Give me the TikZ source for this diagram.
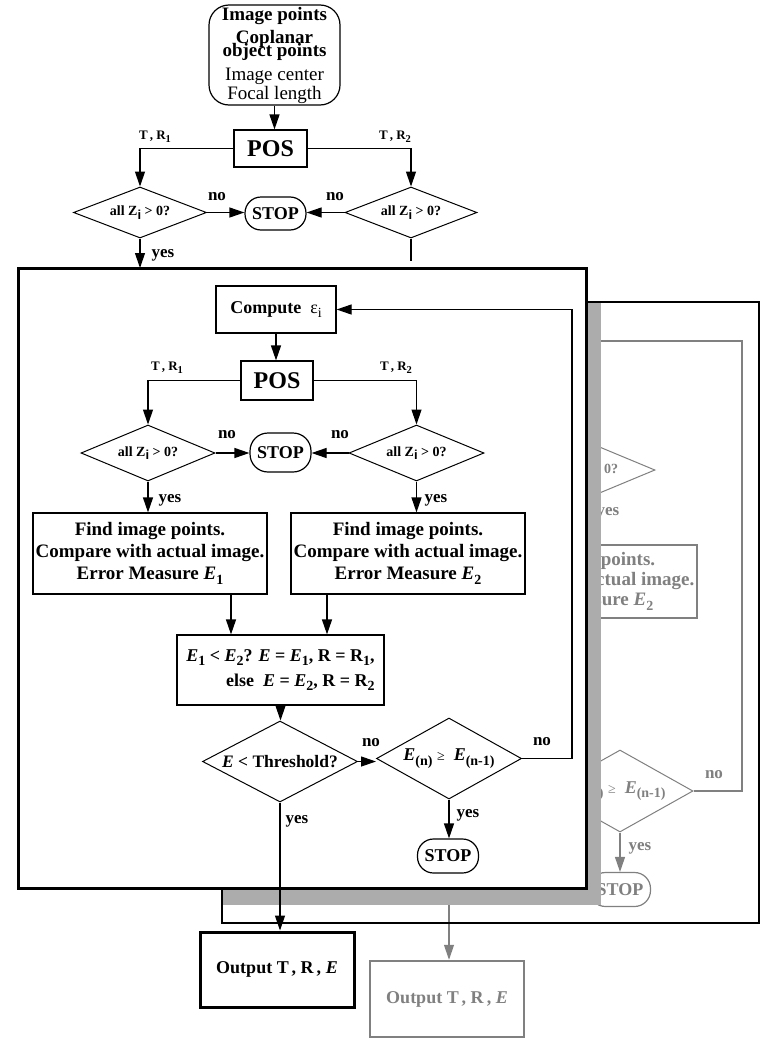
\documentclass[tikz,border=0pt]{standalone}
\usepackage{fontspec}
\setmainfont{Liberation Serif}
\setsansfont{Liberation Sans}
\usetikzlibrary{arrows.meta,shapes.geometric}
\definecolor{gr}{RGB}{128,128,128}
\definecolor{shadowgray}{RGB}{172,172,172}
\newcommand\sbA[1]{\raisebox{-4.5pt}{\fontsize{14}{14}\selectfont #1}}
\newcommand\sbB[1]{\raisebox{-3pt}{\fontsize{10.5}{10.5}\selectfont #1}}
\newcommand\sbZ[1]{\raisebox{-3.5pt}{\fontsize{13}{13}\selectfont\sffamily\bfseries #1}}
\begin{document}
\begin{tikzpicture}[x=1pt,y=-1pt,
  font=\bfseries\fontsize{18}{20}\selectfont,
  box/.style={draw, rectangle, line width=1.2pt, inner sep=0pt, align=center},
  findbox/.style={box, font=\bfseries\fontsize{19}{22}\selectfont},
  dia/.style={draw, diamond, line width=1pt, inner sep=0pt, aspect=2},
  stopbox/.style={draw, rectangle, rounded corners=16pt, line width=1.2pt, inner sep=0pt, minimum width=61pt, minimum height=34pt},
  ln/.style={line width=1.2pt},
  arr/.style={line width=1.2pt, -{Triangle[length=15pt,width=10pt]}},
  lbl/.style={inner sep=0pt, font=\bfseries\fontsize{17}{17}\selectfont},
  trl/.style={inner sep=0pt, font=\bfseries\fontsize{13}{13}\selectfont},
  zt/.style={font=\bfseries\fontsize{14}{14}\selectfont},
  ghost/.style={draw=gr, text=gr},
]
\useasboundingbox (0,0) rectangle (778,1044);
\fill[white] (0,0) rectangle (778,1044);

% ---------------- back panel ----------------
\fill[white] (222,302) rectangle (759,923);
\node[dia, ghost, zt, minimum width=134pt, minimum height=56pt] (bD) at (588,470) {all Z\sbZ{i} > 0?};
\node[lbl, text=gr] (bY1) at (608,513) {yes};
\node[findbox, ghost, font=\bfseries\fontsize{19}{20}\selectfont, minimum width=234pt, minimum height=73pt] (bF) at (580,581.5) {Find image points.\\Compare with actual image.\\Error Measure \textit{E}\sbA{2}};
\node[dia, ghost, minimum width=146pt, minimum height=82pt, aspect=1.8] (bE) at (620,791) {\textit{E}\sbA{(n)} {\mdseries\fontsize{14}{14}\selectfont ≥}\ \ \textit{E}\sbA{(n-1)}};
\node[lbl, text=gr] (bNo) at (714,775) {no};
\node[lbl, text=gr] (bY2) at (640,848) {yes};
\node[stopbox, ghost] (bS) at (620,889.5) {STOP};
\draw[arr, color=gr] (bE.south) -- (bS.north);
\coordinate (bLoop) at (742,341);
\coordinate (bLoopEnd) at (590,341);
\draw[ln, color=gr] (bE.east) -| (bLoop) -- (bLoopEnd);
\coordinate (bYesTop) at (449,850);
\node[box, ghost, line width=2.5pt, minimum width=154pt, minimum height=76pt] (bO) at (447,999) {Output T\,, R\,, \textit{E}};
\draw[arr, color=gr] (bYesTop) -- (bYesTop |- bO.north);
% shadow and back frame
\fill[shadowgray] (223,302) rectangle (601,905);
\draw[line width=2.2pt] (222,302) rectangle (759,923);

% ---------------- front panel ----------------
\draw[line width=3pt, fill=white] (18,268) rectangle (586,888);

% ---------------- top part ----------------
\node[draw, rectangle, rounded corners=20pt, line width=1.2pt, minimum width=131pt, minimum height=100pt, inner sep=0pt, align=center, font=\fontsize{19}{19}\selectfont] (src) at (274.5,55)
  {\textbf{Image points}\\[4pt]\textbf{Coplanar}\\[-6pt]\textbf{object points}\\[5pt]Image center\\Focal length};
\node[box, font=\bfseries\fontsize{24}{24}\selectfont, minimum width=73pt, minimum height=37pt] (pos1) at (270.5,148.5) {POS};
\node[trl] (tr1a) at (155,137) {T\,, R\sbB{1}};
\node[trl] (tr2a) at (395,137) {T\,, R\sbB{2}};
\node[dia, zt, minimum width=133pt, minimum height=51pt] (d1L) at (140,212.5) {all Z\sbZ{i} > 0?};
\node[dia, zt, minimum width=132pt, minimum height=51pt] (d1R) at (411,212.5) {all Z\sbZ{i} > 0?};
\node[stopbox, minimum height=33pt] (stop1) at (275.5,213.5) {STOP};
\node[lbl] (no1a) at (217,197) {no};
\node[lbl] (no1b) at (335,197) {no};
\node[lbl] (yes1) at (163,255) {yes};
\coordinate (frontTop) at (0,268);
\coordinate (rstub) at (411,261);
\draw[arr] (src.south) -- (src.south |- pos1.north);
\draw[arr] (pos1.west) -| (d1L.north);
\draw[arr] (pos1.east) -| (d1R.north);
\draw[arr] (d1L.east) -- (d1L.east -| stop1.west);
\draw[arr] (d1R.west) -- (d1R.west -| stop1.east);
\draw[arr] (d1L.south) -- (d1L.south |- frontTop);
\draw[ln] (d1R.south) -- (rstub);

% ---------------- inner flow ----------------
\node[box, minimum width=120pt, minimum height=47pt] (comp) at (276,309.5) {Compute\ \ {\mdseries ε\sbA{i}}};
\node[box, font=\bfseries\fontsize{24}{24}\selectfont, minimum width=72pt, minimum height=39pt] (pos2) at (277,380.5) {POS};
\node[trl] (tr1b) at (167,368) {T\,, R\sbB{1}};
\node[trl] (tr2b) at (396,368) {T\,, R\sbB{2}};
\node[dia, zt, minimum width=134pt, minimum height=56pt] (d2L) at (148,453) {all Z\sbZ{i} > 0?};
\node[dia, zt, minimum width=135pt, minimum height=56pt] (d2R) at (416.5,453) {all Z\sbZ{i} > 0?};
\node[stopbox, minimum height=39pt, rounded corners=18pt] (stop2) at (280.5,452.5) {STOP};
\node[lbl] (no2a) at (227,435) {no};
\node[lbl] (no2b) at (340,435) {no};
\node[lbl] (yes2a) at (170,500) {yes};
\node[lbl] (yes2b) at (436,500) {yes};
\node[findbox, minimum width=234pt, minimum height=81pt] (find1) at (150,553.5) {Find image points.\\Compare with actual image.\\Error Measure \textit{E}\sbA{1}};
\node[findbox, minimum width=234pt, minimum height=81pt] (find2) at (408,553.5) {Find image points.\\Compare with actual image.\\Error Measure \textit{E}\sbA{2}};
\node[box, align=right, font=\bfseries\fontsize{18}{25}\selectfont, minimum width=207pt, minimum height=70pt] (ebox) at (280.5,670)
  {\textit{E}\sbA{1} < \textit{E}\sbA{2}? \textit{E} = \textit{E}\sbA{1}, R = R\sbA{1},\\else\ \ \textit{E} = \textit{E}\sbA{2}, R = R\sbA{2}};
\node[dia, font=\bfseries\fontsize{17.5}{18}\selectfont, minimum width=155pt, minimum height=81pt, aspect=1.9] (thr) at (280,761.5) {\textit{E} < Threshold?};
\node[dia, minimum width=145pt, minimum height=81pt, aspect=1.8] (en) at (449,758.5) {\textit{E}\sbA{(n)} {\mdseries\fontsize{14}{14}\selectfont ≥}\ \ \textit{E}\sbA{(n-1)}};
\node[stopbox] (stop3) at (448,856) {STOP};
\node[lbl] (no3a) at (371,743) {no};
\node[lbl] (no3b) at (542,742) {no};
\node[lbl] (yes3a) at (468,815) {yes};
\node[lbl] (yes3b) at (297,821) {yes};
\node[box, line width=3pt, minimum width=154pt, minimum height=75pt] (out1) at (277,969.5) {Output T\,, R\,, \textit{E}};
\coordinate (loopX) at (572,0);

\draw[arr] (comp.south) -- (comp.south |- pos2.north);
\draw[arr] (pos2.west) -| (d2L.north);
\draw[arr] (pos2.east) -| (d2R.north);
\draw[arr] (d2L.east) -- (d2L.east -| stop2.west);
\draw[arr] (d2R.west) -- (d2R.west -| stop2.east);
\draw[arr] (d2L.south) -- (d2L.south |- find1.north);
\draw[arr] (d2R.south) -- (d2R.south |- find2.north);
\draw[arr] ([xshift=81pt]find1.south) -- ([xshift=81pt]find1.south |- ebox.north);
\draw[arr] ([xshift=-81pt]find2.south) -- ([xshift=-81pt]find2.south |- ebox.north);
\draw[arr] (ebox.south) -- (ebox.south |- thr.north);
\draw[arr] (thr.east) -- (thr.east -| en.west);
\draw[arr] (en.south) -- (en.south |- stop3.north);
\draw[arr] (en.east) -| (loopX |- comp.east) -- (comp.east);
\draw[arr] (thr.south) -- (thr.south |- out1.north);
\end{tikzpicture}
\end{document}
